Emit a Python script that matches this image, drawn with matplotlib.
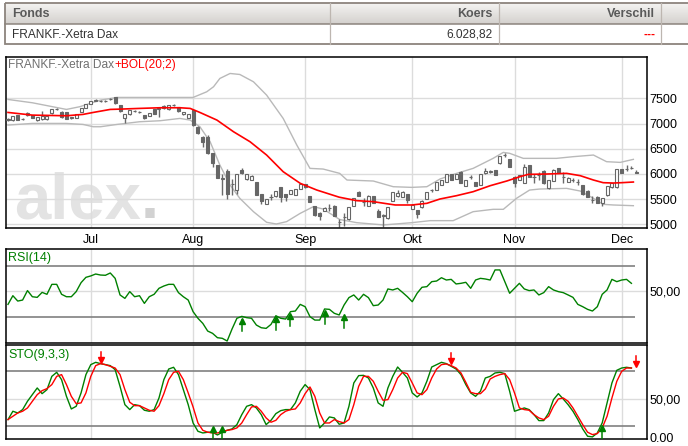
import numpy as np
import pandas as pd
import matplotlib
matplotlib.use('Agg')
import matplotlib.pyplot as plt
from matplotlib.patches import Rectangle
from matplotlib.colors import LinearSegmentedColormap

plt.rcParams['font.family'] = ['Liberation Sans', 'DejaVu Sans']

# trading days shown (Xetra DAX, Jun 8 - Dec 6 2011)
dates = pd.bdate_range('2011-06-08', '2011-12-06')
month_names = ['Jul', 'Aug', 'Sep', 'Okt', 'Nov', 'Dec']

opens = [7075, 7063, 7169, 7095, 7169, 7169, 7063, 7083, 7083, 7202,
         7285, 7235, 7235, 7120, 7116, 7235, 7315, 7387, 7458, 7450,
         7450, 7485, 7520, 7367, 7103, 7182, 7245, 7232, 7169, 7156,
         7281, 7298, 7301, 7288, 7366, 7328, 7182, 7116, 7268, 6937,
         6739, 6739, 6408, 6176, 5905, 6057, 5795, 5691, 6077, 5897,
         5890, 5845, 5593, 5407, 5538, 5553, 5732, 5593, 5606, 5586,
         5705, 5798, 5560, 5361, 5228, 5261, 5326, 5370, 5048, 5138,
         5100, 5370, 5635, 5448, 5363, 5555, 5264, 5175, 5120, 5470,
         5555, 5550, 5595, 5300, 5284, 5337, 5500, 5678, 5680, 5780,
         5846, 5990, 5910, 6044, 5760, 5943, 5846, 5780, 6010, 6048,
         6070, 6210, 6373, 6290, 5945, 5890, 5826, 6176, 5943, 5978,
         6064, 5714, 5866, 6110, 5943, 5846, 5878, 5844, 5780, 5668,
         5478, 5550, 5430, 5575, 5734, 5734, 6090, 6103, 6123, 6043]
closes = [7085, 7149, 7076, 7098, 7215, 7116, 7136, 7142, 7156, 7288,
          7290, 7123, 7096, 7125, 7189, 7315, 7381, 7447, 7462, 7455,
          7455, 7490, 7400, 7248, 7189, 7262, 7250, 7237, 7103, 7215,
          7189, 7302, 7354, 7368, 7370, 7248, 7235, 7182, 6970, 6805,
          6626, 6408, 6209, 5924, 5915, 5612, 5805, 5990, 6010, 5990,
          5964, 5580, 5460, 5500, 5542, 5659, 5546, 5533, 5672, 5705,
          5798, 5738, 5447, 5182, 5162, 5328, 5330, 5165, 5052, 5142,
          5337, 5515, 5560, 5452, 5568, 5430, 5152, 5185, 5337, 5635,
          5620, 5650, 5483, 5390, 5205, 5470, 5635, 5682, 5845, 5880,
          5990, 5880, 5990, 5826, 5880, 5947, 5760, 5990, 6064, 6052,
          5980, 6355, 6377, 6145, 5826, 5980, 6143, 5945, 5947, 5982,
          5815, 5880, 6077, 6024, 5947, 5925, 5882, 5848, 5595, 5550,
          5482, 5430, 5515, 5760, 5813, 6090, 6024, 6107, 6127, 6029]
highs = [7110, 7160, 7175, 7120, 7225, 7175, 7140, 7248, 7160, 7295,
         7305, 7245, 7240, 7140, 7195, 7320, 7385, 7455, 7480, 7475,
         7470, 7510, 7525, 7375, 7195, 7270, 7270, 7255, 7175, 7220,
         7290, 7320, 7360, 7375, 7385, 7335, 7240, 7190, 7275, 6945,
         6745, 6772, 6415, 6185, 6000, 6090, 5900, 6000, 6123, 6000,
         5975, 5850, 5600, 5510, 5600, 5665, 5740, 5600, 5680, 5710,
         5805, 5805, 5565, 5370, 5235, 5335, 5395, 5380, 5110, 5220,
         5345, 5520, 5670, 5515, 5575, 5560, 5300, 5210, 5345, 5640,
         5680, 5660, 5600, 5400, 5290, 5480, 5640, 5710, 5850, 5885,
         5995, 6000, 5995, 6050, 5885, 5985, 5850, 5995, 6110, 6080,
         6080, 6360, 6420, 6295, 5950, 5985, 6190, 6180, 6000, 6040,
         6070, 5885, 6090, 6115, 6040, 5930, 5920, 5900, 5785, 5675,
         5560, 5555, 5520, 5765, 5820, 6100, 6100, 6180, 6150, 6080]
lows = [7050, 7050, 7070, 7070, 7160, 7110, 7055, 7075, 7075, 7195,
        7270, 7115, 7090, 7100, 7110, 7230, 7310, 7380, 7440, 7430,
        7435, 7470, 7395, 7240, 7017, 7175, 7225, 7215, 7095, 7150,
        7185, 7135, 7295, 7280, 7350, 7240, 7175, 7110, 6960, 6795,
        6540, 6400, 6143, 5915, 5592, 5500, 5586, 5600, 6000, 5890,
        5880, 5575, 5407, 5400, 5480, 5545, 5440, 5460, 5600, 5580,
        5700, 5730, 5440, 5175, 5076, 5255, 5255, 5160, 4950, 4960,
        5095, 5365, 5555, 5365, 5360, 5425, 5145, 4940, 5115, 5465,
        5550, 5545, 5430, 5295, 5120, 5330, 5495, 5640, 5675, 5775,
        5840, 5875, 5905, 5820, 5755, 5900, 5755, 5775, 6005, 6020,
        5975, 6205, 6340, 6140, 5750, 5885, 5820, 5940, 5830, 5890,
        5810, 5710, 5860, 6020, 5820, 5840, 5850, 5780, 5590, 5545,
        5430, 5425, 5360, 5570, 5730, 5730, 6020, 6050, 6090, 6010]

# Bollinger (20;2) lines at these day positions
sma_x = [0, 5, 12, 15.4, 17.5, 21, 23, 27, 31.2, 35.3, 37.4, 39.4, 42.9, 46.3,
         49.7, 53.1, 56.5, 60, 63.4, 68, 71.6, 75, 79.5, 82.9, 86, 88.7, 92.1,
         95.5, 99, 102.4, 105.1, 106.8, 110.6, 114.7, 117.5, 120.2, 122.2,
         124.3, 126, 128.4]
sma_v = [7222, 7169, 7156, 7183, 7222, 7282, 7288, 7302, 7315, 7315, 7302, 7222,
         7070, 6839, 6640, 6376, 6045, 5814, 5681, 5539, 5470, 5450, 5384, 5384,
         5417, 5503, 5569, 5648, 5767, 5860, 5946, 5992, 5999, 6012, 5966, 5880,
         5827, 5820, 5827, 5840]
upper_x = [0, 5, 12, 14.7, 19, 22.4, 29.2, 35.3, 38, 40.8, 42.2, 43.5, 45.6,
           47.6, 50.4, 53.1, 56.5, 59.3, 62, 64.7, 68.1, 69.6, 75, 79.1, 82.9,
           86, 88.7, 92.1, 95.5, 99.6, 101.7, 103, 105.8, 112.6, 116, 120.2,
           122.9, 125.7, 128.4]
upper_v = [7480, 7414, 7282, 7335, 7467, 7520, 7520, 7520, 7520, 7632, 7732,
           7897, 7996, 7976, 7831, 7566, 7103, 6574, 6111, 6098, 6012, 5880,
           5860, 5747, 5734, 5747, 5900, 6012, 6111, 6310, 6429, 6410, 6310,
           6310, 6343, 6376, 6244, 6230, 6290]
lower_x = [0, 5, 12, 15.4, 17.5, 19, 22.4, 27, 31.2, 35.3, 37.4, 39.4, 41.5,
           43.5, 45.6, 47.6, 50.4, 53.1, 55.1, 57.2, 60, 62.7, 64.7, 68.1,
           71.6, 77.1, 82.9, 86.7, 91.4, 95.5, 99.6, 101.7, 104.4, 107.1,
           109.2, 114.7, 117.5, 120.2, 122.2, 124.3, 128.4]
lower_v = [6971, 7004, 7004, 6984, 6938, 6938, 6984, 7037, 7057, 7103, 7070,
           6938, 6640, 6177, 5780, 5516, 5251, 5040, 5007, 5053, 5218, 5351,
           5304, 5096, 5033, 4987, 5033, 5073, 5073, 5251, 5298, 5298, 5516,
           5681, 5701, 5714, 5661, 5516, 5397, 5384, 5370]

rsi = [39.9, 46.7, 42.5, 43.3, 50.7, 45.9, 45.4, 49.3, 47.8, 55.6,
       55.6, 47.8, 45.9, 45.9, 49.9, 56.9, 61.1, 62.2, 63.7, 62.9,
       62.7, 64.5, 60.3, 47.3, 44.6, 49.9, 45.9, 46.7, 40.7, 45.9,
       47.8, 52.5, 54.3, 55.6, 55.6, 49.1, 45.9, 43.3, 34.2, 29.0,
       25.0, 19.0, 17.2, 13.8, 13.3, 11.2, 20.6, 29.0, 30.5, 29.5,
       29.0, 23.7, 21.6, 21.1, 24.2, 31.0, 29.0, 28.4, 34.2, 34.7,
       39.9, 38.1, 30.3, 27.6, 27.6, 36.3, 36.0, 32.9, 31.6, 39.4,
       45.2, 47.3, 43.3, 47.8, 45.2, 38.9, 39.4, 43.3, 52.0, 51.2,
       52.5, 49.3, 45.9, 42.0, 48.6, 53.3, 53.8, 57.7, 58.2, 60.8,
       59.0, 59.5, 55.9, 56.4, 57.2, 52.5, 59.0, 60.3, 59.8, 59.0,
       66.9, 66.9, 57.7, 48.6, 52.5, 56.4, 52.0, 50.7, 51.2, 47.3,
       49.1, 53.8, 51.2, 49.9, 49.1, 47.3, 45.4, 39.9, 38.1, 36.0,
       34.7, 38.1, 47.8, 51.2, 59.5, 57.7, 59.0, 59.5, 56.4]
sto_k = [27.3, 36.4, 34.5, 38.2, 47.3, 54.5, 61.8, 55.6, 60.0, 74.5,
         78.9, 70.9, 52.7, 38.9, 41.8, 56.4, 76.4, 87.3, 89.8, 88.4,
         87.3, 86.2, 81.8, 63.6, 43.6, 38.2, 43.6, 42.5, 37.5, 36.4,
         38.2, 50.9, 70.9, 82.5, 84.4, 76.4, 60.0, 43.6, 23.6, 14.5,
         12.7, 13.5, 13.5, 10.5, 13.5, 15.6, 17.1, 21.8, 32.7, 41.8,
         43.6, 40.0, 32.7, 21.8, 26.5, 33.8, 37.1, 38.2, 38.2, 45.5,
         58.2, 65.5, 60.0, 38.2, 18.2, 23.6, 30.2, 29.1, 22.2, 23.6,
         41.8, 67.3, 75.3, 75.6, 72.7, 61.8, 45.5, 41.8, 61.8, 74.5,
         84.7, 78.9, 72.7, 56.4, 52.0, 56.4, 69.1, 84.7, 87.3, 89.8,
         88.4, 85.5, 82.5, 76.4, 65.5, 56.4, 52.7, 58.2, 72.7, 74.5,
         78.2, 78.9, 77.5, 58.2, 36.4, 38.2, 40.0, 38.2, 32.7, 26.2,
         26.2, 34.5, 49.1, 55.6, 49.8, 43.6, 36.4, 27.3, 17.1, 9.1,
         8.4, 12.7, 23.6, 45.5, 67.3, 81.1, 83.6, 84.4, 83.6]
sto_d = [27.3, 30.9, 34.5, 36.4, 40.0, 47.3, 54.5, 58.9, 61.1, 65.5,
         74.5, 76.4, 65.5, 52.7, 44.7, 45.5, 56.4, 74.5, 86.2, 88.4,
         87.3, 85.5, 83.6, 76.4, 60.0, 46.2, 42.5, 42.5, 40.0, 37.5,
         36.4, 42.5, 55.6, 70.9, 78.9, 80.0, 70.9, 56.4, 41.1, 23.6,
         15.6, 13.5, 12.7, 12.7, 14.2, 15.6, 16.4, 18.2, 23.6, 32.7,
         41.1, 41.8, 36.4, 29.1, 24.4, 26.5, 32.7, 36.4, 38.2, 38.9,
         45.5, 55.6, 62.9, 52.7, 34.5, 23.6, 23.6, 27.3, 25.1, 23.6,
         27.3, 43.6, 63.6, 74.5, 74.5, 69.1, 58.2, 48.4, 49.1, 60.0,
         72.7, 78.9, 77.5, 67.3, 56.4, 54.5, 60.0, 72.7, 82.5, 87.3,
         88.0, 86.2, 83.6, 78.2, 68.0, 57.1, 55.6, 55.6, 60.7, 71.6,
         74.5, 76.4, 77.5, 70.9, 56.4, 40.0, 38.2, 37.5, 32.7, 29.1,
         27.3, 30.9, 41.8, 49.8, 50.9, 47.3, 40.0, 30.9, 21.8, 13.5,
         10.9, 12.0, 18.2, 30.9, 50.9, 69.1, 80.0, 83.6, 83.6]

# buy / sell signal arrows (day, tip value)
rsi_buy_day = [48, 55, 58, 65, 69]
rsi_buy_tip = [28.4, 29.5, 32.1, 34.2, 31.0]
sto_buy_day = [42, 44, 122]
sto_buy_tip = [18.2, 18.2, 19.0]
sto_sell_day = [19, 91, 129]
sto_sell_tip = [90.9, 89.8, 86.2]

n = len(dates)
idx = np.arange(n)
month_idx = [int(np.argmax(dates.month == m)) for m in [7, 8, 9, 10, 11, 12]]

W, H = 688, 446
fig = plt.figure(figsize=(W / 100, H / 100), dpi=100, facecolor='white')


def box(l, t, r, b):
    return [l / W, 1 - b / H, (r - l) / W, (b - t) / H]


# overlay in pixel coordinates for the header table and watermark
ov = fig.add_axes([0, 0, 1, 1], zorder=0)
hdr = LinearSegmentedColormap.from_list('hdr', ['#f4f3f1', '#d4d1ce'])
ov.imshow(np.linspace(0, 1, 30).reshape(-1, 1), extent=[5, 690, 24, 3.3],
          cmap=hdr, aspect='auto')
ov.set_xlim(0, W)
ov.set_ylim(H, 0)
ov.axis('off')
ov.add_patch(Rectangle((5, 3.3), 690, 40.7, fill=False, ec='#8c847d', lw=1.3))
ov.plot([5, 690], [24, 24], color='#8c847d', lw=1.1)
for sx in [330, 499.3, 661]:
    ov.plot([sx, sx], [3.3, 44], color='#bdb6b0', lw=0.9)
ov.text(12, 14, 'Fonds', fontsize=9, fontweight='bold', color='#5a5a5a', va='center')
ov.text(492.7, 14, 'Koers', fontsize=9, fontweight='bold', color='#5a5a5a',
        va='center', ha='right')
ov.text(655, 14, 'Verschil', fontsize=9, fontweight='bold', color='#5a5a5a',
        va='center', ha='right')
ov.text(12, 34.5, 'FRANKF.-Xetra Dax', fontsize=8.6, color='#333333', va='center')
ov.text(492.7, 34.5, '6.028,82', fontsize=8.6, color='#333333', va='center', ha='right')
ov.text(655, 34.5, '---', fontsize=8.6, color='#ff0000', va='center', ha='right',
        fontweight='bold')

# watermark
wm = ov.text(14, 218.3, 'alex', fontsize=47, fontweight='bold', color='#e3e3e3',
             va='baseline')
ov.annotate('.', xy=(1, 0), xycoords=wm, va='bottom', fontsize=47,
            fontweight='bold', color='#d2d2d2')

ax = fig.add_axes(box(6, 56.7, 647, 228), zorder=2)
ax_r = fig.add_axes(box(6, 249, 647, 343.3), zorder=2)
ax_s = fig.add_axes(box(6, 345.3, 647, 439), zorder=2)

xlo, xhi = -0.41, 131.2
ind_end = len(rsi) - 0.25
for a in (ax, ax_r, ax_s):
    a.set_facecolor('none')
    a.set_xlim(xlo, xhi)
    for sp in a.spines.values():
        sp.set_color('black')
        sp.set_linewidth(1.1)
    for m in month_idx:
        a.axvline(m, color='#dcdcdc', lw=1, zorder=0.5)
    a.yaxis.tick_right()
    a.tick_params(axis='both', length=0, labelsize=9, colors='black', pad=2)

# main panel
for lev in range(5000, 8000, 500):
    ax.axhline(lev, color='#dcdcdc', lw=1, zorder=0.5)
ax.plot(upper_x, upper_v, color='#b9b9b9', lw=1, zorder=1)
ax.plot(lower_x, lower_v, color='#b9b9b9', lw=1, zorder=1)
ax.vlines(idx, lows, highs, color='#6a6a6a', lw=1, zorder=2)
o = np.array(opens)
c = np.array(closes)
fills = np.where(c >= o, 'white', '#666666')
ax.bar(idx, np.abs(c - o), bottom=np.minimum(o, c), width=0.62, color=fills,
       edgecolor='#666666', lw=0.8, zorder=3)
ax.plot(sma_x, sma_v, color='#ff0000', lw=1.2, zorder=4)
ax.set_ylim(4927, 8329)
ax.set_yticks(range(5000, 8000, 500))
ax.set_xticks(month_idx, month_names)
ax.tick_params(axis='x', pad=4)
t1 = ax.text(0.003, 0.952, 'FRANKF.-Xetra Dax', transform=ax.transAxes,
             fontsize=8.6, color='#707070', va='center')
ax.annotate('+BOL(20;2)', xy=(1, 0), xycoords=t1, va='bottom',
            fontsize=8.6, color='#ff0000')

# RSI panel
ax_r.axhline(50, color='#dcdcdc', lw=1, zorder=0.5)
ax_r.hlines([70, 30], xlo, ind_end, color='#808080', lw=1.2, zorder=1)
ax_r.plot(np.arange(len(rsi)), rsi, color='#008000', lw=1, zorder=3)
for d, tip in zip(rsi_buy_day, rsi_buy_tip):
    ax_r.plot([d, d], [tip - 9.4, tip - 1], color='#008000', lw=1.1, zorder=4)
    ax_r.plot(d, tip - 1.2, marker='^', ms=5, color='#008000', zorder=4)
ax_r.set_ylim(9.4, 83.3)
ax_r.set_yticks([50], ['50,00'])
ax_r.set_xticks([])
ax_r.text(0.003, 0.9, 'RSI(14)', transform=ax_r.transAxes, fontsize=9,
          color='#008000', va='center')

# STO panel
ax_s.axhline(50, color='#dcdcdc', lw=1, zorder=0.5)
ax_s.hlines([80, 20], xlo, ind_end, color='#808080', lw=1.2, zorder=1)
ax_s.plot(np.arange(len(sto_k)), sto_k, color='#008000', lw=1, zorder=3)
ax_s.plot(np.arange(len(sto_d)), sto_d, color='#ff0000', lw=1, zorder=3)
for d, tip in zip(sto_buy_day, sto_buy_tip):
    ax_s.plot([d, d], [tip - 14, tip - 1], color='#008000', lw=1.1, zorder=4)
    ax_s.plot(d, tip - 1.3, marker='^', ms=5, color='#008000', zorder=4)
for d, tip in zip(sto_sell_day, sto_sell_tip):
    ax_s.plot([d, d], [tip + 10, tip + 1], color='#ff0000', lw=1.1, zorder=4)
    ax_s.plot(d, tip + 1.3, marker='v', ms=5, color='#ff0000', zorder=4)
ax_s.set_ylim(6.1, 108.4)
ax_s.set_yticks([50, 7.2], ['50,00', '0.00'])
ax_s.set_xticks([])
ax_s.text(0.003, 0.9, 'STO(9,3,3)', transform=ax_s.transAxes, fontsize=9,
          color='#008000', va='center')

fig.savefig('out.png', dpi=100, facecolor='white')
